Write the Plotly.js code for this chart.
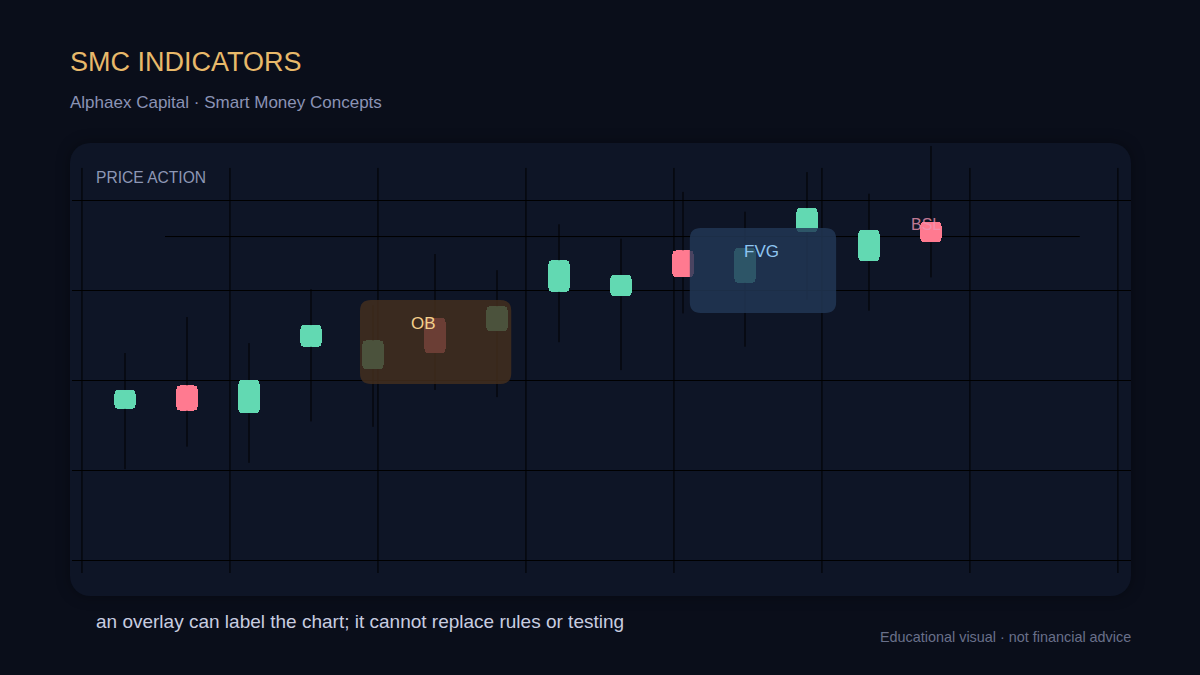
<!DOCTYPE html>
<html>
<head>
<meta charset="utf-8">
<script src="https://cdn.plot.ly/plotly-3.0.1.min.js"></script>
<style>
  html, body { margin:0; padding:0; background:#0a0e1a; width:1200px; height:675px; overflow:hidden; }
  #card { position:absolute; left:70px; top:143px; width:1061px; height:453px; background:#0e1526; border-radius:20px; box-shadow:0 0 14px rgba(0,0,0,0.35); }
  #chart { position:absolute; left:0; top:0; width:1200px; height:675px; }
</style>
</head>
<body>
<div id="card"></div>
<div id="chart"></div>
<script>
// ---- data ----
const candleIndex = [0,1,2,3,4,5,6,7,8,9,10,11,12,13];
const openPrice  = [116.8,119.4,116.3,123.7,121.2,126.9,125.4,129.8,129.3,134.4,130.8,136.4,133.2,137.6];
const closePrice = [118.9,116.6,120.0,126.1,124.4,123.0,128.2,133.3,131.7,131.4,134.7,139.1,136.7,135.3];
const highPrice  = [123.0,127.0,124.1,130.1,128.3,134.0,132.2,137.3,135.7,140.9,138.7,143.1,140.7,146.0];
const lowPrice   = [110.1,112.6,110.8,115.4,114.8,118.9,118.1,124.2,121.1,127.4,123.7,128.9,127.7,131.4];

// zones (x in candle index units, y in price)
const obZone  = {x0:3.79, x1:6.23, y0:119.56, y1:128.89, labelX:4.82, labelY:126.33, text:'OB'};
const fvgZone = {x0:9.11, x1:11.47, y0:127.44, y1:136.89, labelX:10.26, labelY:134.33, text:'FVG'};
const bslLevel = 135.94, bslStart = 0.645, bslEnd = 15.40;
const bslLabel = {x:12.92, y:137.33, text:'BSL'};

// ---- layout geometry ----
const W = 1200, H = 675;
const M = {l:72, r:69, t:145, b:102};
const plotW = W - M.l - M.r, plotH = H - M.t - M.b;
const xRange = [-0.855, 16.226];
const yRange = [98.56, 146.11];
const pxPerX = plotW / (xRange[1]-xRange[0]);
const pxPerY = plotH / (yRange[1]-yRange[0]);
const gridTopPrice = 143.56;
const vGridStart = -0.694, vGridStep = 2.387, vGridCount = 8;

const GREEN = '#62d9b2', RED = '#ff7a90';

// bodies
const bodyBase = candleIndex.map(i => Math.min(openPrice[i], closePrice[i]));
const bodyLen  = candleIndex.map(i => Math.abs(closePrice[i]-openPrice[i]));
const bodyColor = candleIndex.map(i => closePrice[i] >= openPrice[i] ? GREEN : RED);

// wicks split around body
const wx = [], wy = [];
candleIndex.forEach(i => {
  const bTop = Math.max(openPrice[i], closePrice[i]);
  const bBot = Math.min(openPrice[i], closePrice[i]);
  wx.push(i, i, null, i, i, null);
  wy.push(lowPrice[i], bBot, null, bTop, highPrice[i], null);
});

function roundRect(x0, x1, y0, y1, rPx) {
  const rx = rPx / pxPerX, ry = rPx / pxPerY;
  return `M${x0+rx},${y1} L${x1-rx},${y1} Q${x1},${y1} ${x1},${y1-ry} L${x1},${y0+ry} Q${x1},${y0} ${x1-rx},${y0} ` +
         `L${x0+rx},${y0} Q${x0},${y0} ${x0},${y0+ry} L${x0},${y1-ry} Q${x0},${y1} ${x0+rx},${y1} Z`;
}
const px2paperX = px => (px - M.l) / plotW;
const px2paperY = py => (H - M.b - py) / plotH;

const shapes = [];
for (let k = 0; k < vGridCount; k++) {
  const gx = vGridStart + k*vGridStep;
  shapes.push({type:'line', xref:'x', yref:'y', x0:gx, x1:gx, y0:yRange[0], y1:gridTopPrice,
               line:{color:'#000000', width:1}, layer:'below'});
}
shapes.push({type:'line', xref:'x', yref:'y', x0:bslStart, x1:bslEnd, y0:bslLevel, y1:bslLevel,
             line:{color:'#000000', width:1}, layer:'below'});
shapes.push({type:'path', xref:'x', yref:'y', path:roundRect(obZone.x0, obZone.x1, obZone.y0, obZone.y1, 11),
             fillcolor:'rgba(70,47,30,0.8)', line:{width:0}, layer:'above'});
shapes.push({type:'path', xref:'x', yref:'y', path:roundRect(fvgZone.x0, fvgZone.x1, fvgZone.y0, fvgZone.y1, 11),
             fillcolor:'rgba(34,56,87,0.82)', line:{width:0}, layer:'above'});

const FONT = 'Liberation Sans, Arial, sans-serif';
const annotations = [
  {xref:'x', yref:'y', x:obZone.labelX, y:obZone.labelY, text:obZone.text, showarrow:false,
   font:{family:FONT, size:17, color:'#f3d08c'}},
  {xref:'x', yref:'y', x:fvgZone.labelX, y:fvgZone.labelY, text:fvgZone.text, showarrow:false,
   font:{family:FONT, size:17, color:'#8ec5f0'}},
  {xref:'x', yref:'y', x:bslLabel.x, y:bslLabel.y, text:bslLabel.text, showarrow:false,
   font:{family:FONT, size:16, color:'rgba(240,150,180,0.8)'}},
  {xref:'paper', yref:'paper', x:px2paperX(70), y:px2paperY(102), xanchor:'left', yanchor:'middle', xshift:-2,
   text:'Alphaex Capital · Smart Money Concepts', showarrow:false, font:{family:FONT, size:17, color:'#8b93b5'}},
  {xref:'paper', yref:'paper', x:px2paperX(96), y:px2paperY(177), xanchor:'left', yanchor:'middle', xshift:-2,
   text:'PRICE ACTION', showarrow:false, font:{family:FONT, size:15.6, color:'#8d97b5'}},
  {xref:'paper', yref:'paper', x:px2paperX(96), y:px2paperY(621), xanchor:'left', yanchor:'middle', xshift:-2,
   text:'an overlay can label the chart; it cannot replace rules or testing', showarrow:false,
   font:{family:FONT, size:19, color:'#c8cde0'}},
  {xref:'paper', yref:'paper', x:px2paperX(1130), y:px2paperY(637), xanchor:'right', yanchor:'middle', xshift:3,
   text:'Educational visual · not financial advice', showarrow:false,
   font:{family:FONT, size:14.4, color:'#69708a'}}
];

const traces = [
  {type:'scatter', mode:'lines', x:wx, y:wy, line:{color:'#000000', width:1}, hoverinfo:'skip', showlegend:false},
  {type:'bar', x:candleIndex, y:bodyLen, base:bodyBase, width:0.34,
   marker:{color:bodyColor, cornerradius:4, line:{width:0}}, hoverinfo:'skip', showlegend:false}
];

const layout = {
  width:W, height:H, margin:M,
  paper_bgcolor:'rgba(0,0,0,0)', plot_bgcolor:'rgba(0,0,0,0)',
  title:{text:'SMC INDICATORS', xref:'container', yref:'container', x:70/W, y:1-62/H,
         xanchor:'left', yanchor:'middle', font:{family:FONT, size:27, color:'#e8b96a'}},
  xaxis:{range:xRange, showgrid:false, zeroline:false, showticklabels:false, ticks:'', showline:false, fixedrange:true},
  yaxis:{range:yRange, tick0:100, dtick:10, tickmode:'linear', showgrid:true, gridcolor:'#000000', gridwidth:1,
         zeroline:false, showticklabels:false, ticks:'', showline:false, fixedrange:true},
  shapes:shapes, annotations:annotations, showlegend:false, bargap:0
};

Plotly.newPlot('chart', traces, layout, {displayModeBar:false, staticPlot:true});
</script>
</body>
</html>
